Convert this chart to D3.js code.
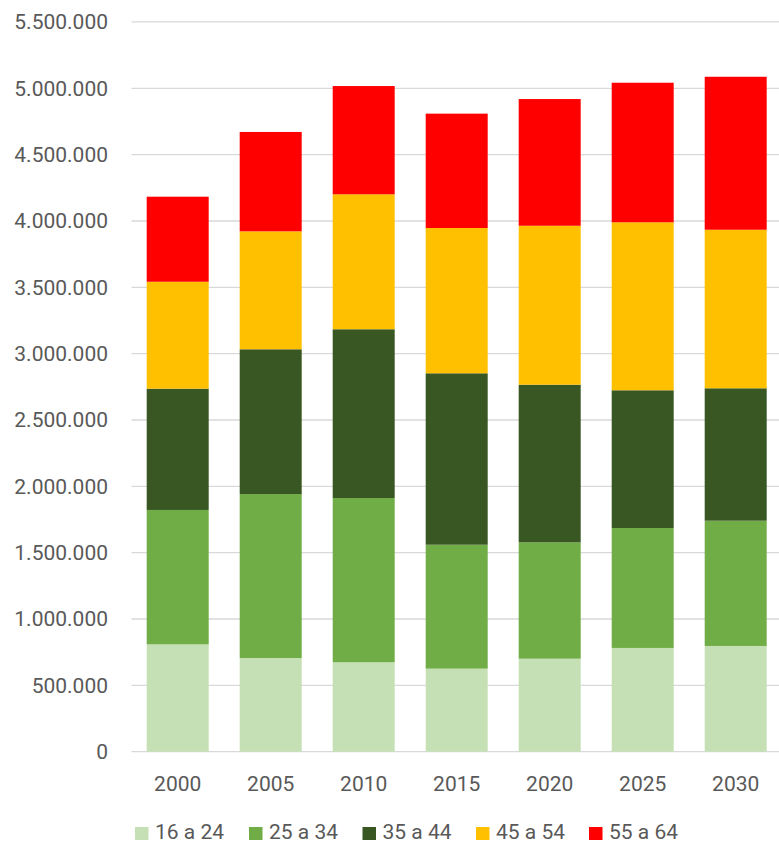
<!DOCTYPE html>
<html>
<head>
<meta charset="utf-8">
<script src="https://cdn.jsdelivr.net/npm/d3@7"></script>
<style>
  html, body { margin: 0; padding: 0; background: #fff; }
  svg { display: block; }
  text { font-family: Roboto, "Open Sans", sans-serif; fill: #595959; }
</style>
</head>
<body>
<svg id="chart" width="779" height="845"></svg>
<script>
const years = ["2000", "2005", "2010", "2015", "2020", "2025", "2030"];
const seriesNames = ["16 a 24", "25 a 34", "35 a 44", "45 a 54", "55 a 64"];
const seriesColors = ["#C5E0B4", "#70AD47", "#385723", "#FFC000", "#FF0000"];
const age16_24 = [809000, 706000, 674000, 626000, 701000, 782000, 797000];
const age25_34 = [1013000, 1236000, 1238000, 934000, 877000, 904000, 944000];
const age35_44 = [914000, 1091000, 1272000, 1292000, 1188000, 1038000, 998000];
const age45_54 = [806000, 889000, 1017000, 1095000, 1198000, 1266000, 1195000];
const age55_64 = [641000, 749000, 816000, 862000, 955000, 1052000, 1153000];
const yTicks = [0, 500000, 1000000, 1500000, 2000000, 2500000, 3000000, 3500000, 4000000, 4500000, 5000000, 5500000];

const seriesValues = [age16_24, age25_34, age35_44, age45_54, age55_64];
const table = years.map((yr, i) => {
  const row = { year: yr };
  seriesNames.forEach((s, j) => row[s] = seriesValues[j][i]);
  return row;
});

const svg = d3.select("#chart");
const x = d3.scaleBand().domain(years).range([131.2, 782.2]).paddingInner(1/3).paddingOuter(1/6);
const y = d3.scaleLinear().domain([0, 5500000]).range([751.7, 21.96]);

const loc = d3.formatLocale({ decimal: ",", thousands: ".", grouping: [3], currency: ["", ""] });
const fmt = loc.format(",d");

// gridlines
svg.append("g").selectAll("line").data(yTicks).join("line")
  .attr("x1", 131.5).attr("x2", 779)
  .attr("y1", d => y(d)).attr("y2", d => y(d))
  .attr("stroke", "#D9D9D9").attr("stroke-width", 1.3);

// y labels
svg.append("g").selectAll("text").data(yTicks).join("text")
  .attr("x", 108).attr("y", d => y(d)).attr("dy", "0.35em")
  .attr("text-anchor", "end").attr("font-size", 21)
  .text(d => fmt(d));

// stacked bars
const stack = d3.stack().keys(seriesNames)(table);
svg.append("g").selectAll("g").data(stack).join("g")
  .attr("fill", (d, i) => seriesColors[i])
  .selectAll("rect").data(d => d).join("rect")
  .attr("x", d => x(d.data.year))
  .attr("width", x.bandwidth())
  .attr("y", d => y(d[1]))
  .attr("height", d => y(d[0]) - y(d[1]));

// x labels
svg.append("g").selectAll("text").data(years).join("text")
  .attr("x", d => x(d) + x.bandwidth() / 2).attr("y", 791)
  .attr("text-anchor", "middle").attr("font-size", 21)
  .text(d => d);

// legend
const legend = svg.append("g");
const lx = [135, 249, 362.5, 476, 589];
seriesNames.forEach((s, i) => {
  const g = legend.append("g").attr("transform", `translate(${lx[i]},0)`);
  g.append("rect").attr("x", 0).attr("y", 827).attr("width", 13.5).attr("height", 13).attr("fill", seriesColors[i]);
  g.append("text").attr("x", 20).attr("y", 839).attr("font-size", 21).text(s);
});
</script>
</body>
</html>
